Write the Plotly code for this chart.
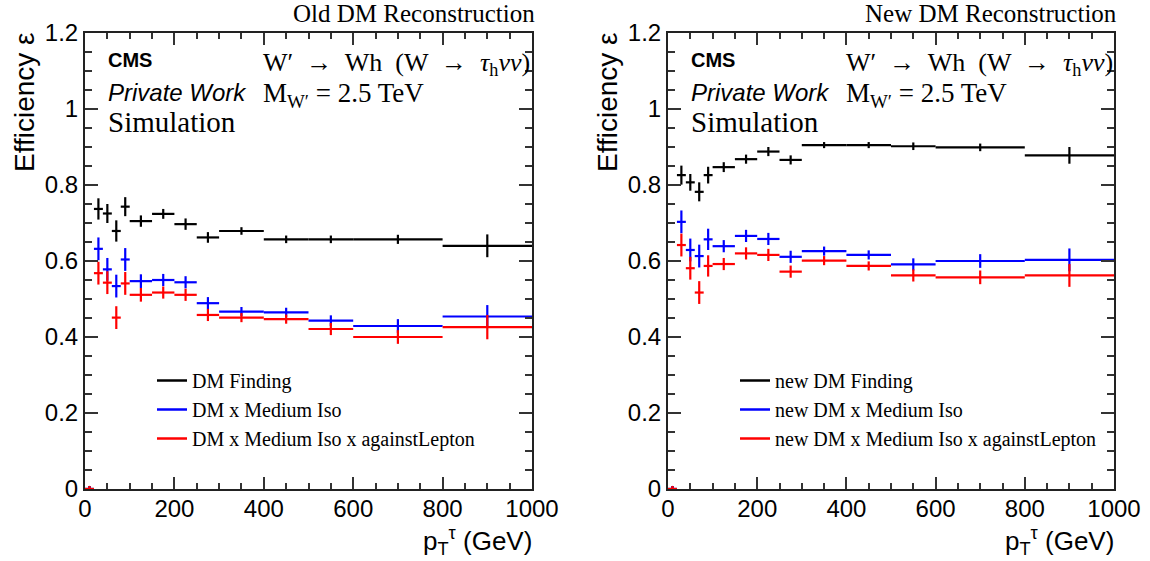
import plotly.graph_objects as go

W, H = 1150, 561

# ---------------- data ----------------
bin_edges = [0, 20, 40, 60, 80, 100, 150, 200, 250, 300, 400, 500, 600, 800, 1000]

old_dm = [0.0, 0.737, 0.725, 0.679, 0.743, 0.705, 0.724, 0.697, 0.662, 0.679, 0.657, 0.657, 0.657, 0.640]
old_dm_err = [0.008, 0.028, 0.025, 0.028, 0.025, 0.015, 0.013, 0.015, 0.014, 0.010, 0.010, 0.010, 0.012, 0.030]
old_iso = [0.0, 0.632, 0.578, 0.534, 0.604, 0.547, 0.550, 0.544, 0.489, 0.467, 0.465, 0.443, 0.429, 0.454]
old_iso_err = [0.008, 0.030, 0.030, 0.030, 0.030, 0.018, 0.016, 0.016, 0.016, 0.012, 0.012, 0.014, 0.018, 0.030]
old_lep = [0.0, 0.568, 0.543, 0.451, 0.541, 0.511, 0.517, 0.511, 0.458, 0.451, 0.447, 0.421, 0.400, 0.426]
old_lep_err = [0.008, 0.030, 0.030, 0.030, 0.030, 0.018, 0.016, 0.016, 0.016, 0.012, 0.012, 0.016, 0.018, 0.032]

new_dm = [0.0, 0.826, 0.807, 0.782, 0.826, 0.847, 0.868, 0.888, 0.866, 0.905, 0.905, 0.902, 0.899, 0.878]
new_dm_err = [0.008, 0.025, 0.022, 0.025, 0.022, 0.013, 0.012, 0.012, 0.012, 0.008, 0.008, 0.010, 0.010, 0.022]
new_iso = [0.0, 0.703, 0.629, 0.613, 0.657, 0.639, 0.666, 0.658, 0.611, 0.626, 0.616, 0.591, 0.600, 0.603]
new_iso_err = [0.008, 0.030, 0.030, 0.030, 0.028, 0.016, 0.016, 0.016, 0.016, 0.012, 0.012, 0.016, 0.018, 0.030]
new_lep = [0.0, 0.642, 0.581, 0.517, 0.587, 0.592, 0.620, 0.616, 0.572, 0.601, 0.587, 0.562, 0.557, 0.562]
new_lep_err = [0.008, 0.030, 0.030, 0.030, 0.028, 0.016, 0.016, 0.016, 0.016, 0.012, 0.012, 0.016, 0.018, 0.030]

old_names = ["DM Finding", "DM x Medium Iso", "DM x Medium Iso x againstLepton"]
new_names = ["new DM Finding", "new DM x Medium Iso", "new DM x Medium Iso x againstLepton"]
panel_titles = ["Old DM Reconstruction", "New DM Reconstruction"]
colors = ["#000000", "#0000ff", "#ff0000"]

x_ticks = [0, 200, 400, 600, 800, 1000]
y_ticks = [0, 0.2, 0.4, 0.6, 0.8, 1.0, 1.2]
y_ticktext = ["0", "0.2", "0.4", "0.6", "0.8", "1", "1.2"]

centers = [(a + b) / 2 for a, b in zip(bin_edges[:-1], bin_edges[1:])]
halfw = [(b - a) / 2 for a, b in zip(bin_edges[:-1], bin_edges[1:])]

# ---------------- layout geometry (pixels) ----------------
def PX(x):
    return x / W

def PY(y):
    return 1 - y / H

panels = [
    dict(x0=85, x1=532, xa="x", ya="y", legend="legend",
         series=[(old_dm, old_dm_err), (old_iso, old_iso_err), (old_lep, old_lep_err)],
         names=old_names, title=panel_titles[0]),
    dict(x0=668, x1=1114, xa="x2", ya="y2", legend="legend2",
         series=[(new_dm, new_dm_err), (new_iso, new_iso_err), (new_lep, new_lep_err)],
         names=new_names, title=panel_titles[1]),
]
y_top, y_bot = 33, 489

fig = go.Figure()

for p in panels:
    for (vals, errs), col, name in zip(p["series"], colors, p["names"]):
        fig.add_trace(go.Scatter(
            x=centers, y=vals, mode="markers",
            marker=dict(size=1, color=col, opacity=0),
            error_x=dict(type="data", array=halfw, color=col, thickness=2.2, width=0),
            error_y=dict(type="data", array=errs, color=col, thickness=2.2, width=0),
            xaxis=p["xa"], yaxis=p["ya"], showlegend=False, hoverinfo="skip",
        ))
    for col, name in zip(colors, p["names"]):
        fig.add_trace(go.Scatter(
            x=[None], y=[None], mode="lines", line=dict(color=col, width=2.5),
            name=name, xaxis=p["xa"], yaxis=p["ya"], legend=p["legend"], showlegend=True,
        ))

axis_common = dict(
    showline=True, linecolor="#222", linewidth=2, mirror="allticks",
    ticks="inside", tickcolor="#333", tickwidth=1.5,
    showgrid=False, zeroline=False,
    tickfont=dict(family="Liberation Sans, Arial", size=24, color="#000"),
    automargin=False,
)

serif = "Liberation Serif, Times New Roman"
sans = "Liberation Sans, Arial"

layout = dict(
    width=W, height=H,
    margin=dict(l=0, r=0, t=0, b=0),
    paper_bgcolor="white", plot_bgcolor="white",
    showlegend=True,
)

ann = []
for i, p in enumerate(panels):
    sfx = "" if i == 0 else "2"
    layout["xaxis" + sfx] = dict(
        axis_common, domain=[PX(p["x0"]), PX(p["x1"])], range=[0, 1000],
        tickvals=x_ticks, ticklen=12, anchor="y" + sfx, ticklabelstandoff=-3,
        minor=dict(ticks="inside", dtick=50, ticklen=6, tickcolor="#333", tickwidth=1.5),
    )
    layout["yaxis" + sfx] = dict(
        axis_common, domain=[PY(y_bot), PY(y_top)], range=[0, 1.2],
        tickvals=y_ticks, ticktext=y_ticktext, ticklen=13, anchor="x" + sfx,
        minor=dict(ticks="inside", dtick=0.05, ticklen=7, tickcolor="#333", tickwidth=1.5),
    )
    off = p["x0"] - 85
    layout["legend" if i == 0 else "legend2"] = dict(
        x=PX(152 + off), y=PY(361), xanchor="left", yanchor="top",
        bgcolor="rgba(0,0,0,0)", borderwidth=0,
        font=dict(family=serif, size=20, color="#000"),
        itemwidth=30, tracegroupgap=0,
    )
    # panel title
    ann.append(dict(x=PX(p["x1"] + 5), y=PY(29), xanchor="right", yanchor="bottom",
                    text=p["title"], font=dict(family=serif, size=25, color="#000")))
    # CMS labels
    ann.append(dict(x=PX(106 + off), y=PY(60), xanchor="left", yanchor="middle",
                    text="<b>CMS</b>", font=dict(family=sans, size=20, color="#000")))
    ann.append(dict(x=PX(106 + off), y=PY(92), xanchor="left", yanchor="middle",
                    text="<i>Private Work</i>", font=dict(family=sans, size=24, color="#000")))
    ann.append(dict(x=PX(106 + off), y=PY(122), xanchor="left", yanchor="middle",
                    text="Simulation", font=dict(family=serif, size=29, color="#000")))
    ann.append(dict(x=PX(261 + off), y=PY(64), xanchor="left", yanchor="middle",
                    text="W′ &nbsp;→&nbsp; Wh &nbsp;(W &nbsp;→&nbsp; <i>τ</i><sub>h</sub><i>νν</i>)",
                    font=dict(family=serif, size=26, color="#000")))
    ann.append(dict(x=PX(261 + off), y=PY(95), xanchor="left", yanchor="middle",
                    text="M<sub>W′</sub> = 2.5 TeV",
                    font=dict(family=serif, size=27, color="#000")))
    # axis titles
    ann.append(dict(x=PX(p["x1"] + 2), y=PY(561), xanchor="right", yanchor="bottom",
                    text="p<sub>T</sub><sup>τ</sup> (GeV)",
                    font=dict(family=sans, size=26, color="#000")))
    ann.append(dict(x=PX(p["x0"] - 61), y=PY(30), xanchor="center", yanchor="top",
                    textangle=-90, text="Efficiency ε",
                    font=dict(family=sans, size=28, color="#000")))

for a in ann:
    a.update(xref="paper", yref="paper", showarrow=False)
layout["annotations"] = ann

fig.update_layout(**layout)
fig.write_html("out.html")
